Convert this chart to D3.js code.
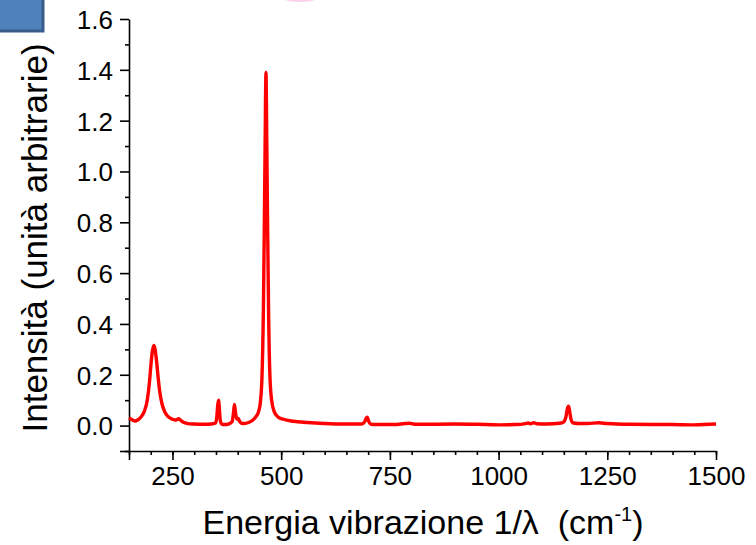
<!DOCTYPE html>
<html>
<head>
<meta charset="utf-8">
<script src="https://cdn.jsdelivr.net/npm/d3@7/dist/d3.min.js"></script>
<style>
  body { margin: 0; background: #fff; }
  svg { display: block; font-family: Arial, "Liberation Sans", sans-serif; }
</style>
</head>
<body>
<svg id="chart" width="756" height="545"></svg>
<script>
// raman spectrum (wavenumber cm-1 / intensity)
var wavenumber = [150, 155, 163, 170, 178, 185, 192, 197, 201, 204, 207, 210, 213, 217, 221, 226, 232, 240, 250, 258,
  264, 268, 275, 285, 300, 320, 340, 349, 352, 354, 356, 358, 360, 363, 370, 380, 387, 390, 392.5, 395, 398, 401,
  404, 408, 415, 425, 435, 442, 448, 452, 456, 459, 461, 463, 465, 467, 469, 471, 474, 478, 484, 492, 505, 528,
  560, 600, 650, 685, 692, 695, 698, 701, 705, 715, 760, 785, 795, 810, 900, 950, 1000, 1040, 1062, 1068, 1074,
  1081, 1088, 1110, 1140, 1150, 1155, 1158, 1161, 1164, 1167, 1172, 1185, 1205, 1230, 1250, 1300, 1400, 1450, 1500];
var intensity = [0.030, 0.025, 0.018, 0.022, 0.035, 0.055, 0.10, 0.17, 0.25, 0.295, 0.315, 0.30, 0.26, 0.19, 0.13, 0.085, 0.055, 0.035, 0.025, 0.022,
  0.027, 0.022, 0.013, 0.008, 0.006, 0.005, 0.006, 0.010, 0.035, 0.08, 0.10, 0.06, 0.02, 0.006, 0.004, 0.007, 0.015, 0.045, 0.083, 0.05, 0.026, 0.028,
  0.018, 0.010, 0.008, 0.012, 0.022, 0.035, 0.055, 0.09, 0.20, 0.45, 0.75, 1.10, 1.39, 1.10, 0.75, 0.45, 0.20, 0.10, 0.055, 0.035, 0.025, 0.017,
  0.012, 0.008, 0.006, 0.006, 0.015, 0.028, 0.033, 0.018, 0.007, 0.004, 0.004, 0.008, 0.009, 0.005, 0.006, 0.005, 0.003, 0.004, 0.008, 0.010, 0.007,
  0.011, 0.007, 0.006, 0.009, 0.015, 0.035, 0.065, 0.076, 0.05, 0.022, 0.010, 0.008, 0.008, 0.011, 0.008, 0.005, 0.004, 0.003, 0.006];

var xMajor = [250, 500, 750, 1000, 1250, 1500];
var xMinor = d3.range(150, 1501, 50);
var yMajor = [0.0, 0.2, 0.4, 0.6, 0.8, 1.0, 1.2, 1.4, 1.6];
var yMinor = [-0.1, 0.1, 0.3, 0.5, 0.7, 0.9, 1.1, 1.3, 1.5];

var svg = d3.select("#chart");

// plot area in pixels
var x = d3.scaleLinear().domain([150, 1500]).range([129, 716]);
var y = d3.scaleLinear().domain([-0.1, 1.6]).range([451, 19]);

// blue box cut by the top left corner, and the faint pink mark at the top
svg.append("rect")
    .attr("x", -5).attr("y", -5)
    .attr("width", 48).attr("height", 36)
    .style("fill", "#4f81bd")
    .style("stroke", "#385d8a")
    .style("stroke-width", 3);
svg.append("ellipse")
    .attr("cx", 300).attr("cy", -10)
    .attr("rx", 27).attr("ry", 11)
    .style("fill", "none")
    .style("stroke", "#ee7fbf")
    .style("stroke-width", 2)
    .style("opacity", 0.35);

// minor ticks (no labels)
svg.append("g")
    .attr("transform", "translate(0,451)")
    .call(d3.axisBottom(x).tickValues(xMinor).tickSize(4).tickFormat(""))
    .call(function(g) { g.select(".domain").remove(); });
svg.append("g")
    .attr("transform", "translate(129,0)")
    .call(d3.axisLeft(y).tickValues(yMinor).tickSize(4).tickFormat(""))
    .call(function(g) { g.select(".domain").remove(); });

// major ticks + labels
var xAxis = svg.append("g")
    .attr("transform", "translate(0,451)")
    .call(d3.axisBottom(x).tickValues([150].concat(xMajor)).tickSize(9).tickSizeOuter(0).tickPadding(7)
      .tickFormat(function(d) { return d == 150 ? "" : d; }));
var yAxis = svg.append("g")
    .attr("transform", "translate(129,0)")
    .call(d3.axisLeft(y).tickValues([-0.1].concat(yMajor)).tickSize(9).tickSizeOuter(0).tickPadding(7)
      .tickFormat(function(d) { return d < 0 ? "" : d3.format(".1f")(d); }));

svg.selectAll(".tick line, .domain")
    .style("stroke", "#000")
    .style("stroke-width", 1.6);
svg.selectAll(".tick text")
    .style("font-size", "26px")
    .style("fill", "#000");
svg.selectAll(".tick text").filter(function() { return this.parentNode.parentNode === yAxis.node(); })
    .attr("dy", "0.36em");

// spectrum line
var line = d3.line()
    .x(function(d, i) { return x(wavenumber[i]); })
    .y(function(d) { return y(d); })
    .curve(d3.curveMonotoneX);

svg.append("path")
    .datum(intensity)
    .attr("d", line)
    .style("fill", "none")
    .style("stroke", "#ff0000")
    .style("stroke-width", 3.4)
    .style("stroke-linejoin", "round");

// axis titles
var xTitle = svg.append("text")
    .attr("x", 423)
    .attr("y", 534)
    .attr("text-anchor", "middle")
    .style("font-size", "34px");
xTitle.append("tspan").text("Energia vibrazione 1/\u03bb\u00a0 (cm");
xTitle.append("tspan").attr("dy", -13).style("font-size", "20px").text("-1");
xTitle.append("tspan").attr("dy", 13).text(")");

svg.append("text")
    .attr("transform", "translate(47,238) rotate(-90)")
    .attr("text-anchor", "middle")
    .style("font-size", "35px")
    .text("Intensità (unità arbitrarie)");
</script>
</body>
</html>
